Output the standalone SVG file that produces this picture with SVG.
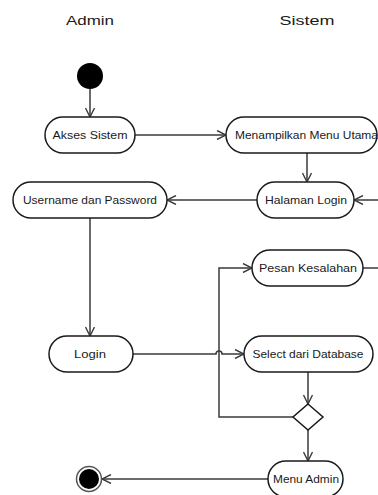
<svg xmlns="http://www.w3.org/2000/svg" width="378" height="495" viewBox="0 0 378 495">
  <style>
    .node { fill: #ffffff; stroke: #1a1a1a; stroke-width: 1.5; }
    .lbl { font-family: "Liberation Sans", Arial, sans-serif; font-size: 11px; fill: #1a1a1a; text-anchor: middle; }
    .lane { font-family: "Liberation Sans", Arial, sans-serif; font-size: 13px; fill: #1a1a1a; text-anchor: middle; }
    .edge { fill: none; stroke: #3a3a3a; stroke-width: 1.5; }
  </style>
  <defs>
    <marker id="open" viewBox="0 0 10 10" refX="10" refY="5" markerWidth="10" markerHeight="10" orient="auto" markerUnits="userSpaceOnUse">
      <path d="M1,0.5 L10,5 L1,9.5" fill="none" stroke="#3a3a3a" stroke-width="1.4"/>
    </marker>
  </defs>
  <rect width="378" height="495" fill="#ffffff"/>

  <!-- swimlane headers -->
  <text class="lane" x="90" y="25" textLength="48" lengthAdjust="spacingAndGlyphs">Admin</text>
  <text class="lane" x="307" y="25" textLength="55" lengthAdjust="spacingAndGlyphs">Sistem</text>

  <g id="connectors">
    <path class="edge" d="M90,89 V117" marker-end="url(#open)"/>
    <path class="edge" d="M135,135 H226" marker-end="url(#open)"/>
    <path class="edge" d="M307,153 V182" marker-end="url(#open)"/>
    <path class="edge" d="M378,200 H354" marker-end="url(#open)"/>
    <path class="edge" d="M257,200 H167" marker-end="url(#open)"/>
    <path class="edge" d="M90,218 V336" marker-end="url(#open)"/>
    <path class="edge" d="M133,354 H216 a3,3 0 0 1 6,0 H244" marker-end="url(#open)"/>
    <path class="edge" d="M308,372 V404" marker-end="url(#open)"/>
    <path class="edge" d="M293,417 H219 V268 H252" marker-end="url(#open)"/>
    <path class="edge" d="M363,268 H378"/>
    <path class="edge" d="M308,430 V461" marker-end="url(#open)"/>
    <path class="edge" d="M268,479 H102" marker-end="url(#open)"/>
  </g>

  <g id="start">
    <circle cx="90" cy="76" r="13" fill="#000000"/>
  </g>

  <g id="akses-sistem">
    <rect class="node" x="45" y="117" width="90" height="36" rx="18"/>
    <text class="lbl" x="90" y="139" textLength="75" lengthAdjust="spacingAndGlyphs">Akses Sistem</text>
  </g>

  <g id="menampilkan-menu-utama">
    <rect class="node" x="226" y="117" width="151" height="36" rx="18"/>
    <text class="lbl" x="235" y="139" style="text-anchor:start" textLength="143" lengthAdjust="spacingAndGlyphs">Menampilkan Menu Utama</text>
  </g>

  <g id="halaman-login">
    <rect class="node" x="257" y="182" width="97" height="36" rx="18"/>
    <text class="lbl" x="306" y="204" textLength="82" lengthAdjust="spacingAndGlyphs">Halaman Login</text>
  </g>

  <g id="username-password">
    <rect class="node" x="13" y="182" width="154" height="36" rx="18"/>
    <text class="lbl" x="90" y="204" textLength="134" lengthAdjust="spacingAndGlyphs">Username dan Password</text>
  </g>

  <g id="pesan-kesalahan">
    <rect class="node" x="252" y="250" width="111" height="36" rx="18"/>
    <text class="lbl" x="308" y="272" textLength="98" lengthAdjust="spacingAndGlyphs">Pesan Kesalahan</text>
  </g>

  <g id="login">
    <rect class="node" x="49" y="336" width="84" height="36" rx="18"/>
    <text class="lbl" x="90" y="358" textLength="32" lengthAdjust="spacingAndGlyphs">Login</text>
  </g>

  <g id="select-database">
    <rect class="node" x="244" y="336" width="129" height="36" rx="18"/>
    <text class="lbl" x="308" y="358" textLength="111" lengthAdjust="spacingAndGlyphs">Select dari Database</text>
  </g>

  <g id="decision">
    <polygon class="node" points="308,404 323,417 308,430 293,417"/>
  </g>

  <g id="menu-admin">
    <rect class="node" x="268" y="461" width="75" height="36" rx="18"/>
    <text class="lbl" x="306" y="483" textLength="66" lengthAdjust="spacingAndGlyphs">Menu Admin</text>
  </g>

  <g id="end">
    <circle cx="89" cy="479" r="12.5" fill="#ffffff" stroke="#555555" stroke-width="1.5"/>
    <circle cx="89" cy="479" r="10" fill="#000000"/>
  </g>
</svg>
